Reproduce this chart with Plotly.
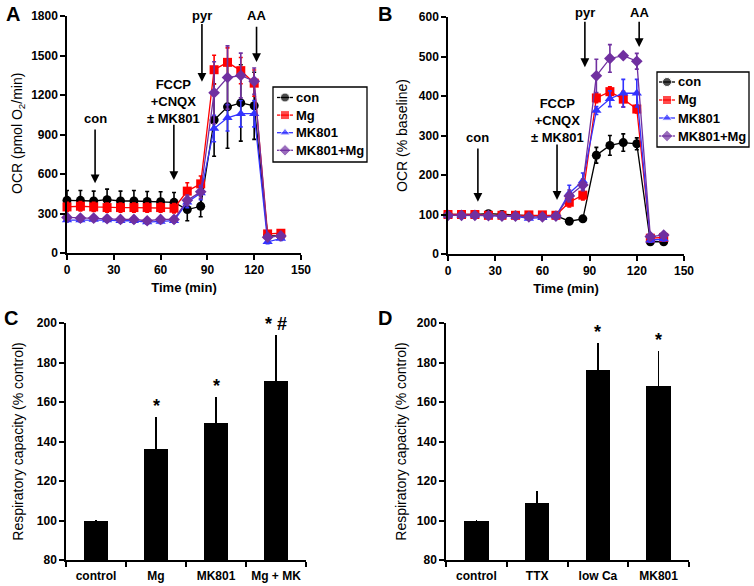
import plotly.graph_objects as go

# ---------------- data ----------------
time_min = [0, 8.6, 17.1, 25.7, 34.3, 42.9, 51.4, 60, 68.6, 77.1, 85.7, 94.3, 102.9, 111.4, 120, 128.6, 137.1]
series_names = ["con", "Mg", "MK801", "MK801+Mg"]

# Panel A: OCR (pmol O2/min)
a_con = [400, 400, 395, 405, 395, 395, 392, 390, 385, 330, 355, 1010, 1110, 1140, 1118, 130, 130]
a_con_err = [75, 75, 75, 80, 75, 80, 75, 75, 75, 85, 80, 275, 315, 290, 255, 20, 20]
a_mg = [350, 355, 350, 345, 345, 345, 345, 345, 340, 470, 525, 1392, 1448, 1385, 1290, 145, 150]
a_mg_err = [35, 35, 35, 35, 35, 35, 35, 35, 35, 63, 60, 110, 110, 100, 100, 15, 15]
a_mk = [250, 250, 255, 250, 245, 245, 235, 240, 245, 385, 455, 945, 1027, 1058, 1058, 85, 110]
a_mk_err = [15, 15, 15, 15, 15, 15, 15, 15, 15, 40, 50, 100, 100, 100, 100, 15, 15]
a_mkmg = [270, 265, 265, 260, 255, 255, 245, 255, 255, 400, 465, 1217, 1333, 1348, 1305, 120, 130]
a_mkmg_err = [15, 15, 15, 15, 15, 15, 15, 15, 15, 40, 50, 235, 240, 170, 100, 15, 15]

# Panel B: OCR (% baseline)
b_con = [100, 100, 100, 102, 100, 98, 97, 97, 97, 83, 89, 250, 275, 282, 279, 31, 31]
b_con_err = [3, 3, 3, 3, 3, 3, 3, 3, 3, 5, 5, 20, 25, 22, 15, 3, 3]
b_mg = [100, 100, 100, 98, 98, 98, 99, 99, 98, 131, 149, 395, 411, 392, 367, 40, 42]
b_mg_err = [3, 3, 3, 3, 3, 3, 3, 3, 3, 12, 12, 12, 12, 20, 10, 5, 5]
b_mk = [98, 98, 98, 98, 96, 95, 90, 92, 96, 154, 185, 363, 393, 407, 407, 35, 38]
b_mk_err = [3, 3, 3, 3, 3, 3, 3, 3, 3, 20, 20, 10, 20, 35, 35, 5, 5]
b_mkmg = [98, 98, 98, 97, 96, 96, 94, 94, 96, 147, 175, 451, 495, 502, 488, 44, 48]
b_mkmg_err = [3, 3, 3, 3, 3, 3, 3, 3, 3, 15, 15, 42, 35, 5, 20, 5, 5]

# Panel C / D: Respiratory capacity (% control)
c_cats = ["control", "Mg", "MK801", "Mg + MK"]
c_vals = [100, 136.3, 149.4, 170.7]
c_err = [0.5, 16, 13, 23]
c_marks = ["", "*", "*", "* #"]

d_cats = ["control", "TTX", "low Ca", "MK801"]
d_vals = [100, 109, 176, 168.3]
d_err = [0.5, 6, 14, 17.3]
d_marks = ["", "", "*", "*"]

# ---------------- style ----------------
FONT = "Liberation Sans, Arial, sans-serif"
colors = ["#000000", "#ff0000", "#3333ff", "#7030a0"]
symbols = ["circle", "square", "triangle-up", "diamond"]
msize = 9

W, H = 754, 586
def px_x(p):
    return p / W
def px_y(p):
    return 1 - p / H

fig = go.Figure()

a_data = [(a_con, a_con_err), (a_mg, a_mg_err), (a_mk, a_mk_err), (a_mkmg, a_mkmg_err)]
b_data = [(b_con, b_con_err), (b_mg, b_mg_err), (b_mk, b_mk_err), (b_mkmg, b_mkmg_err)]

for (xa, ya, data) in [("x", "y", a_data), ("x2", "y2", b_data)]:
    for i, (vals, err) in enumerate(data):
        fig.add_trace(go.Scatter(
            x=time_min, y=vals, mode="lines+markers", name=series_names[i],
            line=dict(color=colors[i], width=1.3),
            marker=dict(symbol=symbols[i], size=msize, color=colors[i]),
            error_y=dict(type="data", array=err, color=colors[i], thickness=1.6, width=2),
            xaxis=xa, yaxis=ya, showlegend=False, cliponaxis=False))

for (xa, ya, cats, vals, err) in [("x3", "y3", c_cats, c_vals, c_err), ("x4", "y4", d_cats, d_vals, d_err)]:
    fig.add_trace(go.Bar(
        x=cats, y=vals, width=0.4, marker=dict(color="black", line=dict(width=0)),
        error_y=dict(type="data", symmetric=False, array=err, arrayminus=[0] * len(err),
                     color="black", thickness=1.6, width=0),
        xaxis=xa, yaxis=ya, showlegend=False))

# ---------------- custom boxed legends (pixel layout on an overlay axis) ----------------
legend_boxes = [  # left, top, right, bottom, marker x, text x, first row y, row step
    (273, 87, 367, 162, 285, 294, 97.5, 17.6),
    (657, 72, 749, 147, 667, 676, 82, 18),
]
shapes = []
ann = []
afont = dict(family=FONT, size=13, color="black", weight="bold")
for (l, t, r, b, mx, tx, ry0, rstep) in legend_boxes:
    shapes.append(dict(type="rect", xref="paper", yref="paper", x0=px_x(l), x1=px_x(r),
                       y0=px_y(b), y1=px_y(t), line=dict(color="black", width=1.3),
                       fillcolor="white", layer="below"))
    for i, name in enumerate(series_names):
        ry = ry0 + i * rstep
        fig.add_trace(go.Scatter(
            x=[mx - 8, mx, mx + 8], y=[ry, ry, ry], mode="lines+markers",
            line=dict(color=colors[i], width=1.3),
            marker=dict(symbol=symbols[i], size=[0, msize, 0], color=colors[i]),
            xaxis="x5", yaxis="y5", showlegend=False, hoverinfo="skip", cliponaxis=False))
        ann.append(dict(x=px_x(tx), y=px_y(ry), xref="paper", yref="paper", text=name,
                        showarrow=False, font=afont, xanchor="left", yanchor="middle"))

tickfont = dict(family=FONT, size=12, color="black", weight="bold")
axis_common = dict(showline=True, linecolor="black", linewidth=1.5, ticks="outside",
                   ticklen=5, tickwidth=1.5, tickcolor="black", showgrid=False,
                   zeroline=False, tickfont=tickfont, automargin=False)

xtitle = dict(text="Time (min)", font=dict(family=FONT, size=13, color="black", weight="bold"), standoff=7)
ytfont = dict(family=FONT, size=14, color="black")

fig.update_layout(
    width=W, height=H, margin=dict(l=0, r=0, t=0, b=0),
    paper_bgcolor="white", plot_bgcolor="rgba(0,0,0,0)",
    font=dict(family=FONT, color="black"),
    showlegend=False,
    xaxis=dict(domain=[px_x(67), px_x(301)], range=[0, 150], tickvals=[0, 30, 60, 90, 120, 150],
               anchor="y", title=xtitle, **axis_common),
    yaxis=dict(domain=[px_y(253), px_y(16)], range=[0, 1800], tickvals=[0, 300, 600, 900, 1200, 1500, 1800],
               anchor="x", **axis_common),
    xaxis2=dict(domain=[px_x(448), px_x(684)], range=[0, 150], tickvals=[0, 30, 60, 90, 120, 150],
                anchor="y2", title=xtitle, **axis_common),
    yaxis2=dict(domain=[px_y(254), px_y(17)], range=[0, 600], tickvals=[0, 100, 200, 300, 400, 500, 600],
                anchor="x2", title=dict(text="OCR (% baseline)", font=ytfont, standoff=8),
                **axis_common),
    xaxis3=dict(domain=[px_x(66), px_x(306)], range=[-0.5, 3.5], tickson="boundaries", tickangle=0,
                ticklabelstandoff=4, anchor="y3", **axis_common),
    yaxis3=dict(domain=[px_y(560), px_y(323)], range=[80, 200], tickvals=[80, 100, 120, 140, 160, 180, 200],
                anchor="x3", title=dict(text="Respiratory capacity (% control)", font=ytfont, standoff=10),
                **axis_common),
    xaxis4=dict(domain=[px_x(446), px_x(689)], range=[-0.5, 3.5], tickson="boundaries", tickangle=0,
                ticklabelstandoff=4, anchor="y4", **axis_common),
    yaxis4=dict(domain=[px_y(560), px_y(323)], range=[80, 200], tickvals=[80, 100, 120, 140, 160, 180, 200],
                anchor="x4", title=dict(text="Respiratory capacity (% control)", font=ytfont, standoff=7),
                **axis_common),
    xaxis5=dict(domain=[0, 1], range=[0, W], visible=False, anchor="y5", fixedrange=True),
    yaxis5=dict(domain=[0, 1], range=[H, 0], visible=False, anchor="x5", fixedrange=True),
    bargap=0,
)

# Panel A y-axis title (placed explicitly)
ann.append(dict(x=px_x(18), y=px_y(134), xref="paper", yref="paper",
                text="OCR (pmol O<sub>2</sub>/min)", textangle=-90, showarrow=False,
                font=ytfont, xanchor="center", yanchor="middle"))

def arrow(xref, yref, x, y_tail, y_tip):
    ann.append(dict(x=x, y=y_tip, ax=x, ay=y_tail, xref=xref, yref=yref, axref=xref, ayref=yref,
                    text="", showarrow=True, arrowhead=2, arrowsize=1.1, arrowwidth=1.6,
                    arrowcolor="black"))

def label(xref, yref, x, y, text):
    ann.append(dict(x=x, y=y, xref=xref, yref=yref, text=text, showarrow=False, font=afont,
                    xanchor="center", yanchor="middle"))

# Panel A annotations
arrow("x", "y", 18, 950, 530)
label("x", "y", 18, 1020, "con")
arrow("x", "y", 68.5, 985, 555)
label("x", "y", 68.5, 1150, "FCCP<br>+CNQX<br>± MK801")
arrow("x", "y", 86.5, 1750, 1300)
label("x", "paper", 86.5, px_y(16), "pyr")
arrow("x", "y", 121.5, 1730, 1450)
label("x", "paper", 121.5, px_y(16), "AA")

# Panel B annotations
arrow("x2", "y2", 19, 271, 132)
label("x2", "y2", 19, 294, "con")
arrow("x2", "y2", 69.3, 281, 137)
label("x2", "y2", 69.3, 338, "FCCP<br>+CNQX<br>± MK801")
arrow("x2", "y2", 87, 592, 473)
label("x2", "paper", 87, px_y(13), "pyr")
arrow("x2", "y2", 121.5, 592, 524)
label("x2", "paper", 121.5, px_y(13), "AA")

# Significance marks
for (xa, ya, cats, vals, errs, marks) in [("x3", "y3", c_cats, c_vals, c_err, c_marks),
                                          ("x4", "y4", d_cats, d_vals, d_err, d_marks)]:
    for cat, v, e, m in zip(cats, vals, errs, marks):
        if m:
            ann.append(dict(x=cat, y=v + e, xref=xa, yref=ya, text=m, showarrow=False,
                            font=dict(family=FONT, size=18, color="black", weight="bold"),
                            xanchor="center", yanchor="bottom", yshift=-1))

# Panel letters
for letter, xp, yp in [("A", 13, 14), ("B", 385, 14), ("C", 11, 318), ("D", 385, 318)]:
    ann.append(dict(x=px_x(xp), y=px_y(yp), xref="paper", yref="paper", text=letter, showarrow=False,
                    font=dict(family=FONT, size=20, color="black", weight="bold"),
                    xanchor="center", yanchor="middle"))

fig.update_layout(annotations=ann, shapes=shapes)

fig.write_html("out.html", post_script="document.body.style.margin='0px';",
               config={"displayModeBar": False})
